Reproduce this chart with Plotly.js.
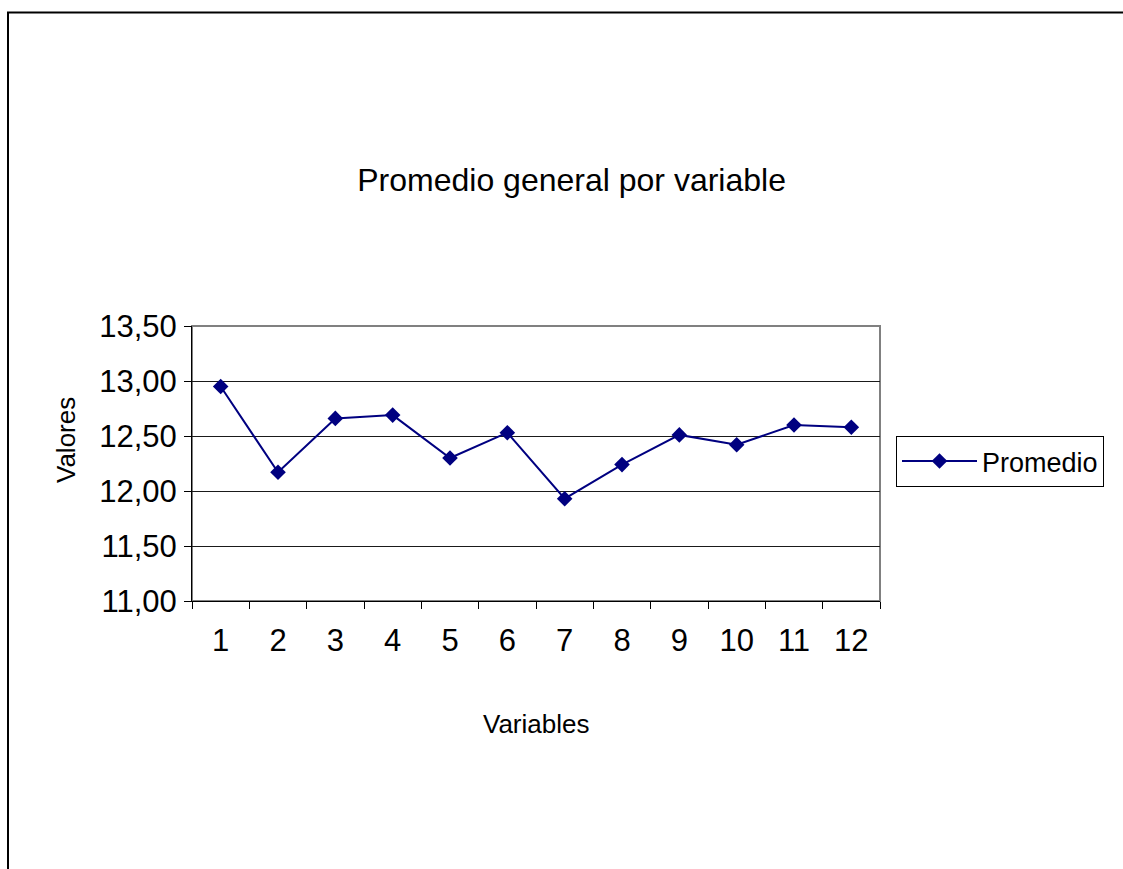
<!DOCTYPE html>
<html>
<head>
<meta charset="utf-8">
<script src="https://cdn.plot.ly/plotly-3.0.1.min.js"></script>
<style>
  html, body { margin: 0; padding: 0; background: #fff; }
  #chart { width: 1123px; height: 869px; }
</style>
</head>
<body>
<div id="chart"></div>
<script>
// Average value per variable
const variables = ['1', '2', '3', '4', '5', '6', '7', '8', '9', '10', '11', '12'];
const promedio = [12.95, 12.17, 12.66, 12.69, 12.30, 12.53, 11.93, 12.24, 12.51, 12.42, 12.60, 12.58];
const yTicks = [11.0, 11.5, 12.0, 12.5, 13.0, 13.5];

const FONT = 'Liberation Sans, Arial, sans-serif';
const NAVY = '#000080';

const trace = {
  type: 'scatter',
  mode: 'lines+markers',
  name: 'Promedio',
  x: variables,
  y: promedio,
  line: { color: NAVY, width: 2 },
  marker: { symbol: 'diamond', size: 12, color: NAVY, line: { width: 0 } }
};

const layout = {
  width: 1123,
  height: 869,
  paper_bgcolor: '#ffffff',
  plot_bgcolor: '#ffffff',
  separators: ',.',
  font: { family: FONT, color: '#000000' },
  margin: { l: 192, r: 243, t: 326, b: 268, pad: 0 },
  title: {
    text: 'Promedio general por variable',
    font: { family: FONT, size: 32, color: '#000000' },
    xref: 'container', yref: 'container',
    x: 0.509, xanchor: 'center',
    y: 1 - 180 / 869, yanchor: 'middle'
  },
  xaxis: {
    type: 'category',
    range: [-0.5, variables.length - 0.5],
    tickson: 'boundaries',
    ticks: 'outside',
    ticklen: 7,
    tickwidth: 1,
    tickcolor: '#000000',
    showline: true,
    linecolor: '#000000',
    linewidth: 1,
    showgrid: false,
    zeroline: false,
    tickfont: { family: FONT, size: 31, color: '#000000' },
    ticklabelstandoff: 12,
    fixedrange: true
  },
  yaxis: {
    range: [11, 13.5],
    tickmode: 'array',
    tickvals: yTicks,
    tickformat: '.2f',
    ticks: 'outside',
    ticklen: 7,
    tickwidth: 1,
    tickcolor: '#000000',
    showline: true,
    linecolor: '#000000',
    linewidth: 1,
    showgrid: true,
    gridcolor: '#1a1a1a',
    gridwidth: 1,
    zeroline: false,
    tickfont: { family: FONT, size: 31, color: '#000000' },
    ticklabelstandoff: 1,
    fixedrange: true
  },
  legend: {
    x: (896 - 192) / 688,
    xanchor: 'left',
    y: (601 - 436) / 275,
    yanchor: 'top',
    bgcolor: '#ffffff',
    bordercolor: '#000000',
    borderwidth: 1,
    itemwidth: 75,
    entrywidth: 135,
    entrywidthmode: 'pixels',
    font: { family: FONT, size: 27, color: '#000000' }
  },
  showlegend: true,
  annotations: [
    {
      text: 'Variables',
      xref: 'paper', yref: 'paper',
      x: 0.5, y: (601 - 724) / 275,
      xanchor: 'center', yanchor: 'middle',
      showarrow: false,
      font: { family: FONT, size: 26, color: '#000000' }
    },
    {
      text: 'Valores',
      xref: 'paper', yref: 'paper',
      x: (66 - 192) / 688, y: (601 - 440) / 275,
      xanchor: 'center', yanchor: 'middle',
      textangle: -90,
      showarrow: false,
      font: { family: FONT, size: 26, color: '#000000' }
    }
  ],
  shapes: [
    // grey frame around the plotting area
    {
      type: 'rect', xref: 'paper', yref: 'paper',
      x0: 0, x1: 1, y0: 0, y1: 1,
      line: { color: '#808080', width: 2 },
      layer: 'below'
    },
    // outer chart border
    {
      type: 'rect', xref: 'paper', yref: 'paper',
      x0: (8 - 192) / 688, x1: (1300 - 192) / 688,
      y0: (601 - 890) / 275, y1: (601 - 12.5) / 275,
      line: { color: '#000000', width: 2 },
      layer: 'below'
    }
  ]
};

Plotly.newPlot('chart', [trace], layout, { displayModeBar: false, staticPlot: true });
</script>
</body>
</html>
